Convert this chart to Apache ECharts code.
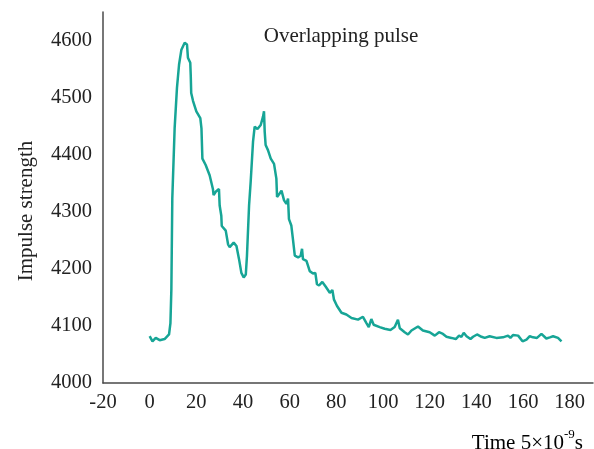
<!DOCTYPE html>
<html>
<head>
<meta charset="utf-8">
<title>Overlapping pulse</title>
<script src="https://cdn.jsdelivr.net/npm/echarts@6/dist/echarts.min.js"></script>
<style>
  html, body { margin: 0; padding: 0; background: #ffffff; }
  #chart { width: 594px; height: 449px; }
</style>
</head>
<body>
<div id="chart"></div>
<script>
// Sample times (units of 5 ns) and measured impulse strength
var times = [
  0, 1.2, 2.6, 4.3, 6.4, 8.3, 8.9, 9.3, 9.7, 10.7,
  11.7, 12.6, 13.6, 15.0, 16.0, 16.4, 17.4, 17.6, 17.8, 18.6,
  20.0, 21.7, 22.2, 22.6, 24.0, 25.7, 27.1, 27.4, 28.3, 29.7,
  30.0, 30.7, 30.9, 31.4, 32.6, 33.6, 34.3, 36.0, 37.2, 38.3,
  39.3, 40.3, 41.2, 41.7, 42.6, 43.3, 44.3, 45.0, 46.2, 47.6,
  48.6, 49.0, 49.3, 49.7, 50.7, 51.9, 53.3, 54.3, 54.6, 55.7,
  56.5, 57.6, 58.6, 59.3, 59.7, 60.7, 61.4, 62.2, 63.6, 64.7,
  65.3, 65.7, 67.2, 68.6, 70.0, 71.0, 71.7, 72.6, 74.0, 75.4,
  77.2, 78.3, 79.0, 80.3, 82.2, 84.3, 86.5, 89.3, 91.4, 92.9,
  93.9, 95.0, 96.0, 98.6, 100.7, 103.2, 105.0, 106.4, 107.2, 109.3,
  110.7, 112.2, 115.0, 117.1, 120.0, 122.2, 124.0, 125.7, 127.2, 129.3,
  131.2, 132.6, 133.6, 134.6, 135.8, 137.5, 138.6, 140.3, 142.2, 143.6,
  145.7, 148.6, 151.4, 153.6, 154.6, 155.7, 157.9, 159.8, 161.5, 162.9,
  164.3, 166.0, 167.9, 170.0, 171.5, 172.9, 175.0, 176.5
];
var strengths = [
  4082, 4073, 4079, 4075, 4077, 4085, 4105, 4164, 4323, 4446,
  4517, 4558, 4584, 4596, 4593, 4570, 4561, 4540, 4508, 4494,
  4476, 4464, 4446, 4393, 4382, 4364, 4340, 4329, 4335, 4340,
  4311, 4293, 4275, 4273, 4267, 4243, 4238, 4246, 4240, 4217,
  4193, 4185, 4190, 4223, 4311, 4353, 4423, 4449, 4445, 4452,
  4467, 4476, 4440, 4417, 4408, 4393, 4384, 4358, 4326, 4332,
  4337, 4320, 4314, 4323, 4287, 4276, 4252, 4223, 4220, 4223,
  4235, 4217, 4214, 4196, 4192, 4193, 4173, 4171, 4177, 4169,
  4158, 4163, 4146, 4135, 4123, 4120, 4114, 4111, 4116, 4105,
  4098, 4112, 4102, 4098, 4095, 4093, 4098, 4111, 4096, 4089,
  4085, 4092, 4099, 4092, 4089, 4083, 4089, 4086, 4081, 4079,
  4077, 4083, 4081, 4088, 4082, 4077, 4081, 4085, 4081, 4079,
  4082, 4079, 4080, 4083, 4079, 4084, 4083, 4073, 4076, 4082,
  4080, 4079, 4086, 4078, 4080, 4082, 4079, 4073
];

var titleText = 'Overlapping pulse';
var yName = 'Impulse strength';

var FONT = '"Liberation Serif", "DejaVu Serif", serif';
var TEXT_COLOR = '#222222';
var AXIS_COLOR = '#4a4a4a';
var LINE_COLOR = '#17a596';
var TICK_SIZE = 20.5;
var NAME_SIZE = 21;

var pulse = times.map(function (t, i) { return [t, strengths[i]]; });

var chart = echarts.init(document.getElementById('chart'), null, { renderer: 'canvas' });

chart.setOption({
  animation: false,
  backgroundColor: '#ffffff',
  grid: { left: 103, right: 1, top: 12, bottom: 66, containLabel: false },
  xAxis: {
    type: 'value',
    min: -20,
    max: 190,
    interval: 20,
    axisLine: { show: true, onZero: false, lineStyle: { color: AXIS_COLOR, width: 1.5 } },
    axisTick: { show: false },
    splitLine: { show: false },
    axisLabel: {
      showMaxLabel: false,
      margin: 9,
      color: TEXT_COLOR,
      fontFamily: FONT,
      fontSize: TICK_SIZE,
      formatter: function (v) { return String(v); }
    }
  },
  yAxis: {
    type: 'value',
    min: 4000,
    max: 4650,
    interval: 100,
    axisLine: { show: true, onZero: false, lineStyle: { color: AXIS_COLOR, width: 1.5 } },
    axisTick: { show: false },
    splitLine: { show: false },
    axisLabel: {
      showMaxLabel: false,
      margin: 11,
      color: TEXT_COLOR,
      fontFamily: FONT,
      fontSize: TICK_SIZE,
      formatter: function (v) { return String(v); }
    }
  },
  graphic: [
    {
      type: 'text',
      x: 341,
      y: 36,
      style: {
        text: titleText,
        fill: TEXT_COLOR,
        font: NAME_SIZE + 'px ' + FONT,
        align: 'center',
        verticalAlign: 'middle'
      }
    },
    {
      type: 'text',
      x: 26,
      y: 211,
      rotation: Math.PI / 2,
      style: {
        text: yName,
        fill: TEXT_COLOR,
        font: NAME_SIZE + 'px ' + FONT,
        align: 'center',
        verticalAlign: 'middle'
      }
    },
    {
      type: 'text',
      x: 583,
      y: 441,
      style: {
        text: '{a|Time 5×10}{b|-9}{a|s}',
        align: 'right',
        verticalAlign: 'middle',
        rich: {
          a: { fontFamily: FONT, fontSize: NAME_SIZE, color: TEXT_COLOR, lineHeight: 26, verticalAlign: 'bottom' },
          b: { fontFamily: FONT, fontSize: 13, color: TEXT_COLOR, lineHeight: 26, verticalAlign: 'top', padding: [0, 0, 10, 0] }
        }
      }
    }
  ],
  series: [
    {
      type: 'line',
      data: pulse,
      showSymbol: false,
      symbol: 'none',
      smooth: false,
      lineStyle: { color: LINE_COLOR, width: 2.5 },
      z: 3
    }
  ]
});
</script>
</body>
</html>
